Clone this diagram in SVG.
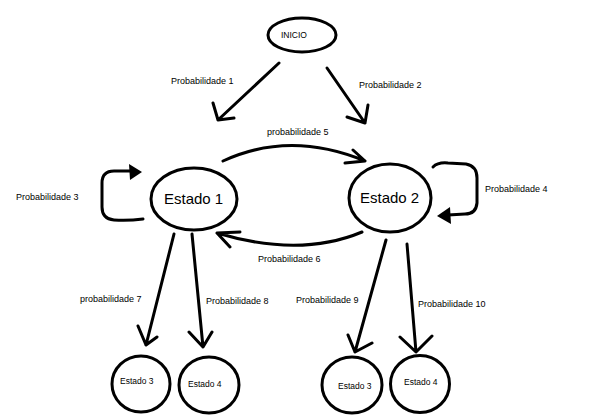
<svg xmlns="http://www.w3.org/2000/svg" width="600" height="417" viewBox="0 0 600 417">
<style>
.n{fill:none;stroke:#000;stroke-width:3}
.e{fill:none;stroke:#000;stroke-width:3;stroke-linecap:round;stroke-linejoin:round}
.l{font-family:"Liberation Sans",Arial,sans-serif;font-size:9px;fill:#000}
.t{font-family:"Liberation Sans",Arial,sans-serif;font-size:8.5px;fill:#000}
.b{font-family:"Liberation Sans",Arial,sans-serif;font-size:15px;fill:#000}
</style>
<rect width="600" height="417" fill="#fff"/>
<g id="inicio"><ellipse class="n" cx="302" cy="35" rx="34" ry="17"/><text class="t" x="281" y="38">INICIO</text></g>
<g id="estado1"><ellipse class="n" cx="194" cy="199" rx="43" ry="31"/><text class="b" x="164" y="204">Estado 1</text></g>
<g id="estado2"><ellipse class="n" cx="390" cy="198" rx="41" ry="34"/><text class="b" x="360" y="203">Estado 2</text></g>
<g id="estado3a"><ellipse class="n" cx="141" cy="384" rx="29" ry="28"/><text class="t" x="120" y="384">Estado 3</text></g>
<g id="estado4a"><ellipse class="n" cx="209" cy="385" rx="30" ry="28"/><text class="t" x="188" y="387">Estado 4</text></g>
<g id="estado3b"><ellipse class="n" cx="352" cy="385" rx="30" ry="28"/><text class="t" x="338" y="389">Estado 3</text></g>
<g id="estado4b"><ellipse class="n" cx="420" cy="384" rx="29.5" ry="28.5"/><text class="t" x="404" y="385">Estado 4</text></g>
<g id="connectors">
<path class="e" d="M279 63 L218 120 M213 103 L218 120 L234 118"/>
<path class="e" d="M327 68 L365 123 M347 117 L365 123 L368 105"/>
<path class="e" d="M223 161 Q290 130 365 161 M353 150 L365 161 L345 163"/>
<path class="e" d="M362 232 Q300 258 217 233 M230 247 L217 233 L240 232"/>
<path class="e" d="M143 219 Q128 221 114 220 Q102 219 102 207 L102 183 Q102 171 114 171 L130 171"/>
<polygon points="142,172 129,164 130,180" fill="#000"/>
<path class="e" d="M433 167 Q438 162 448 163 L466 164 Q477 166 477 178 L477 203 Q476 214 465 214 L448 215"/>
<polygon points="437,216 450,207 451,224" fill="#000"/>
<path class="e" d="M174 234 L146 345 M138 326 L146 345 L157 337"/>
<path class="e" d="M192 234 L203 347 M189 332 L203 347 L212 332"/>
<path class="e" d="M386 240 L355 352 M348 335 L355 352 L372 343"/>
<path class="e" d="M407 244 L416 352 M400 337 L416 352 L432 336"/>
</g>
<g id="labels">
<text class="l" x="171" y="84">Probabilidade 1</text>
<text class="l" x="359" y="88">Probabilidade 2</text>
<text class="l" x="267" y="135">probabilidade 5</text>
<text class="l" x="16" y="200">Probabilidade 3</text>
<text class="l" x="485" y="192">Probabilidade 4</text>
<text class="l" x="258" y="262">Probabilidade 6</text>
<text class="l" x="80" y="302">probabilidade 7</text>
<text class="l" x="206" y="304">Probabilidade 8</text>
<text class="l" x="296" y="303">Probabilidade 9</text>
<text class="l" x="418" y="307">Probabilidade 10</text>
</g>
</svg>
